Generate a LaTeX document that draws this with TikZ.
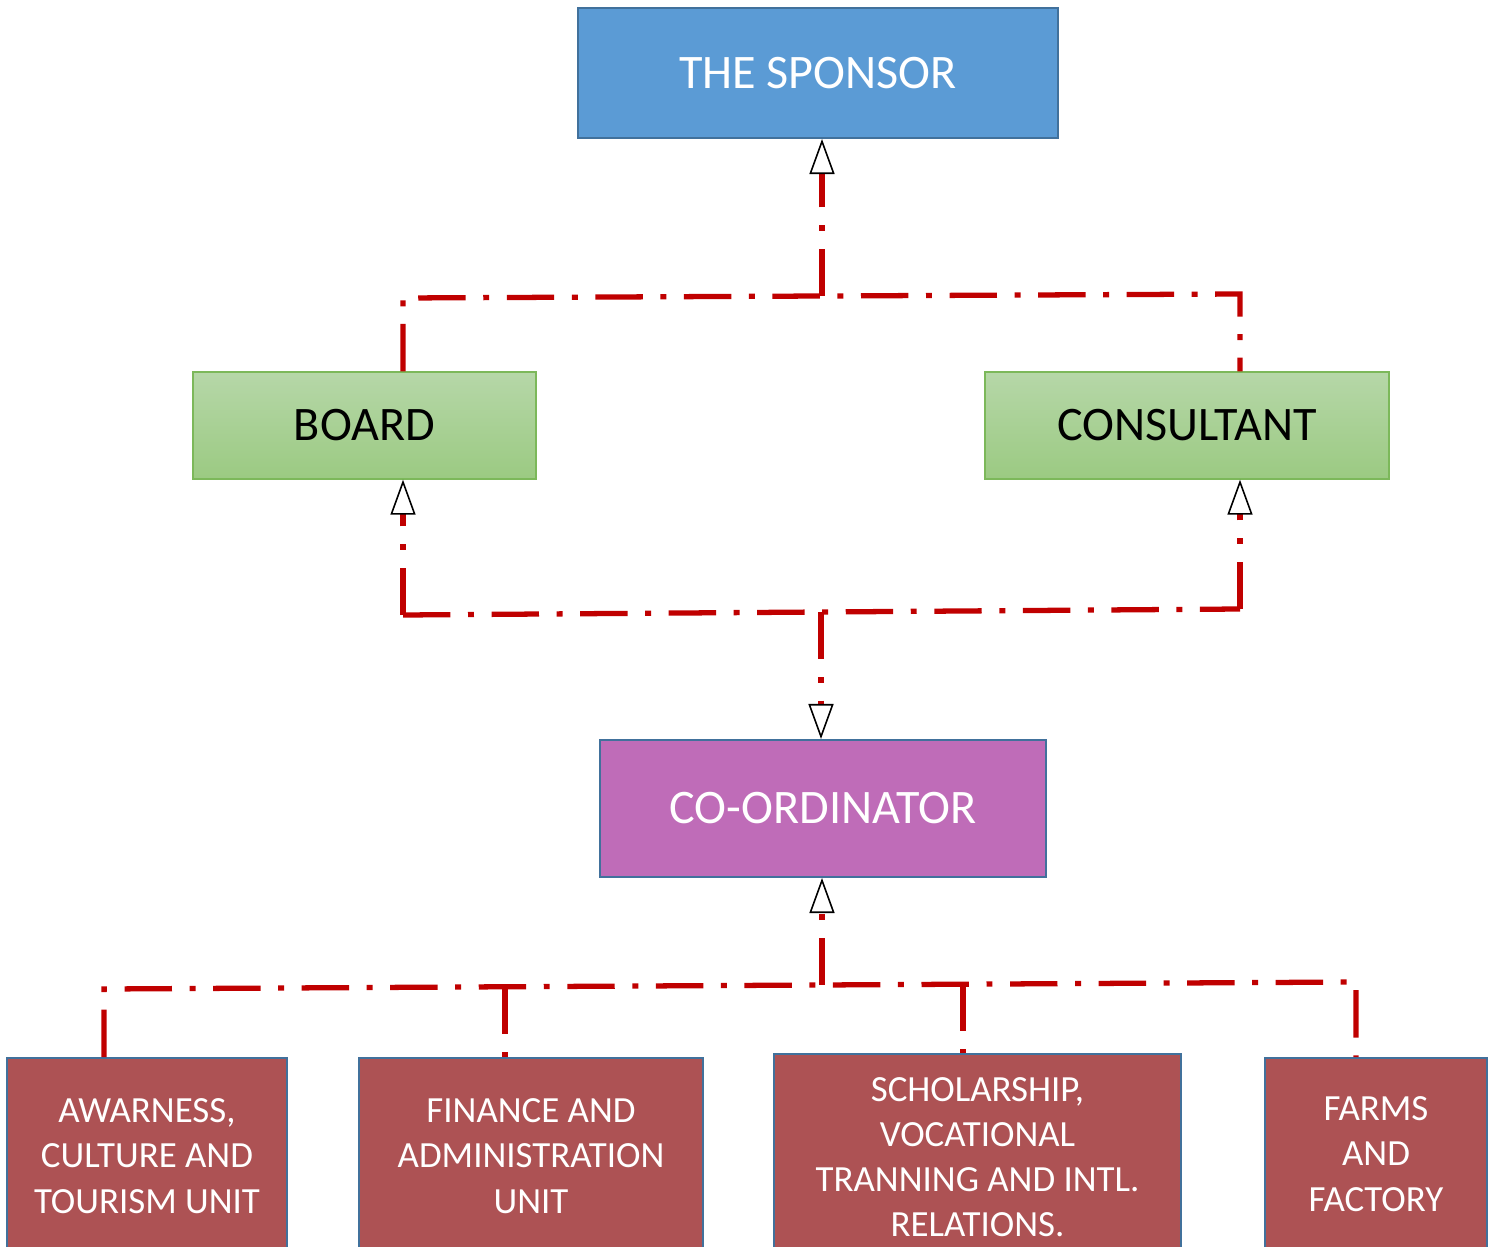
\documentclass[tikz,border=0pt]{standalone}
\usepackage{fontspec}
\setmainfont{Carlito}
\usetikzlibrary{positioning, arrows.meta, calc}

\definecolor{sponsorblue}{HTML}{5B9BD5}
\definecolor{edgeblue}{HTML}{41719C}
\definecolor{boardtop}{HTML}{B6D7A8}
\definecolor{boardbot}{HTML}{9BCA82}
\definecolor{boardedge}{HTML}{7CB85A}
\definecolor{coordpurple}{HTML}{BF6CB8}
\definecolor{unitred}{HTML}{AD5254}
\definecolor{linkred}{HTML}{C00000}

\tikzset{
  headbox/.style={rectangle, draw=edgeblue, line width=1.2pt, text=white, font=\fontsize{27.4}{33}\selectfont},
  greenbox/.style={rectangle, draw=boardedge, line width=0.8pt, top color=boardtop, bottom color=boardbot, text=black, minimum height=2.14cm, font=\fontsize{27.4}{33}\selectfont},
  unitbox/.style={rectangle, draw=edgeblue, line width=1.2pt, fill=unitred, text=white, align=center, anchor=north, font=\fontsize{21}{25.7}\selectfont},
  link/.style={draw=linkred, line width=3pt, dash pattern=on 27pt off 10pt on 3.4pt off 10pt},
  linkarrow/.style={link, -{Triangle[length=0.7cm, width=0.5cm, black, fill=white, line width=0.9pt]}}
}

\begin{document}
\begin{tikzpicture}[x=0.02cm, y=-0.02cm]
  \useasboundingbox (0,0) rectangle (1494,1247);

  % Nodes
  \node[headbox, fill=sponsorblue, minimum width=9.6cm, minimum height=2.6cm] (sponsor) at (818,73) {THE SPONSOR};
  \node[greenbox, minimum width=6.86cm] (board) at (364.5,425.5) {BOARD};
  \node[greenbox, minimum width=8.08cm] (consultant) at (1187,425.5) {CONSULTANT};
  \node[headbox, fill=coordpurple, minimum width=8.92cm, minimum height=2.74cm] (coordinator) at (823,808.5) {CO-ORDINATOR};

  \node[unitbox, minimum width=5.6cm, minimum height=3.92cm] (awareness) at (147,1057) {AWARNESS,\\CULTURE AND\\TOURISM UNIT};
  \node[unitbox, minimum width=6.88cm, minimum height=3.92cm] (finance) at (531,1057) {FINANCE AND\\ADMINISTRATION\\UNIT};
  \node[unitbox, minimum width=8.14cm, minimum height=4.12cm] (scholar) at (977.5,1053) {SCHOLARSHIP,\\VOCATIONAL\\TRANNING AND INTL.\\RELATIONS.};
  \node[unitbox, minimum width=4.44cm, minimum height=3.84cm] (farms) at (1376,1057) {FARMS\\AND\\FACTORY};

  % Junctions
  \coordinate (tl) at (403,298);
  \coordinate (tr) at (1240,294);
  \coordinate (tm) at (822,296);
  \coordinate (ml) at (403,615);
  \coordinate (mr) at (1240,609);
  \coordinate (mm) at (821,612);
  \coordinate (bl) at (104,989);
  \coordinate (br) at (1356,982);
  \coordinate (bm) at (822,985);
  \coordinate (bf) at (505,987);
  \coordinate (bs) at (963,984);

  % Arrows
  \draw[link] (board.north -| tl) -- (tl) -- (tr) -- (consultant.north -| tr);
  \draw[linkarrow] (tm) -- (sponsor.south -| tm);

  \draw[link] (ml) -- (mr);
  \draw[linkarrow] (ml) -- (board.south -| ml);
  \draw[linkarrow] (mr) -- (consultant.south -| mr);
  \draw[linkarrow] (mm) -- (coordinator.north -| mm);

  \draw[link] (awareness.north -| bl) -- (bl) -- (br) -- (farms.north -| br);
  \foreach \c/\u in {bf/finance, bs/scholar}
    \draw[link] (\c) -- (\u.north -| \c);
  \draw[linkarrow] (bm) -- (coordinator.south -| bm);
\end{tikzpicture}
\end{document}
